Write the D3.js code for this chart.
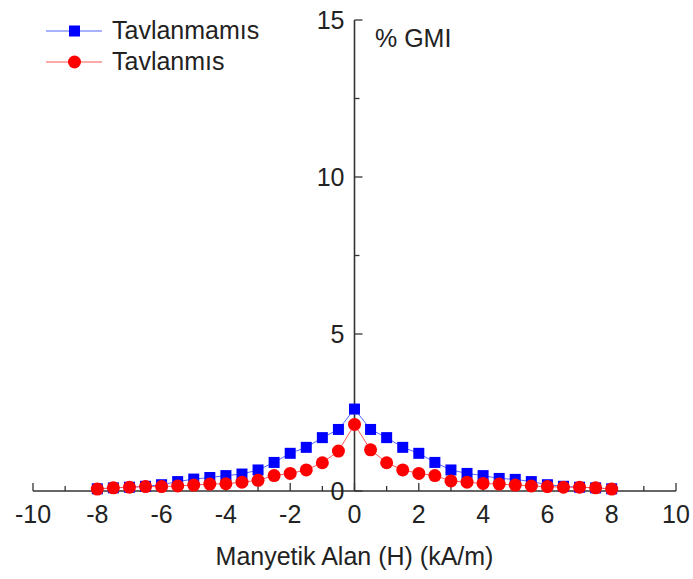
<!DOCTYPE html>
<html><head><meta charset="utf-8">
<script src="https://cdn.jsdelivr.net/npm/d3@7"></script>
<style>
body{margin:0;background:#fff;}
text{font-family:"Liberation Sans",Arial,sans-serif;fill:#222;}
</style></head>
<body><svg id="c" width="693" height="579"></svg>
<script>
const fieldH = [-8,-7.5,-7,-6.5,-6,-5.5,-5,-4.5,-4,-3.5,-3,-2.5,-2,-1.5,-1,-0.5,0,0.5,1,1.5,2,2.5,3,3.5,4,4.5,5,5.5,6,6.5,7,7.5,8];
const untreated = [0.07,0.1,0.12,0.15,0.2,0.3,0.38,0.43,0.49,0.54,0.67,0.91,1.2,1.39,1.7,1.96,2.61,1.96,1.7,1.39,1.2,0.91,0.67,0.56,0.49,0.4,0.37,0.3,0.2,0.15,0.12,0.1,0.07];
const annealed = [0.06,0.1,0.12,0.14,0.14,0.16,0.19,0.22,0.23,0.28,0.34,0.49,0.56,0.67,0.9,1.27,2.12,1.31,0.9,0.67,0.56,0.49,0.32,0.28,0.24,0.22,0.19,0.16,0.14,0.12,0.12,0.1,0.06];
const seriesNames = ["Tavlanmamıs","Tavlanmıs"];
const xTicks = [-10,-8,-6,-4,-2,0,2,4,6,8,10];
const yTicks = [0,5,10,15];
const xTitle = "Manyetik Alan (H) (kA/m)";
const yTitle = "% GMI";

const FS = 25;
const svg = d3.select("#c");
const x = d3.scaleLinear().domain([-10,10]).range([33,676]);
const y = d3.scaleLinear().domain([0,15]).range([491,20]);
const axisColor = "#333";

// X axis with ticks pointing up
const xAxis = svg.append("g").attr("transform","translate(0,"+y(0)+")");
xAxis.append("line").attr("x1",x(-10)).attr("x2",x(10)).attr("stroke",axisColor).attr("stroke-width",1.6);
xAxis.selectAll(".maj").data(xTicks).join("line")
  .attr("x1",d=>x(d)).attr("x2",d=>x(d)).attr("y1",0).attr("y2",-8)
  .attr("stroke",axisColor).attr("stroke-width",1.3);
xAxis.selectAll(".min").data(d3.range(-9,10,2)).join("line")
  .attr("x1",d=>x(d)).attr("x2",d=>x(d)).attr("y1",0).attr("y2",-5)
  .attr("stroke",axisColor).attr("stroke-width",1.3);
xAxis.selectAll("text").data(xTicks).join("text")
  .attr("x",d=>x(d)).attr("y",32).attr("text-anchor","middle")
  .attr("font-size",FS).text(d=>d);

// Y axis at x=0 with ticks pointing right
const yAxis = svg.append("g").attr("transform","translate("+x(0)+",0)");
yAxis.append("line").attr("y1",y(0)).attr("y2",y(15)).attr("stroke",axisColor).attr("stroke-width",1.6);
yAxis.selectAll(".maj").data(yTicks).join("line")
  .attr("x1",0).attr("x2",8).attr("y1",d=>y(d)).attr("y2",d=>y(d))
  .attr("stroke",axisColor).attr("stroke-width",1.3);
yAxis.selectAll(".min").data([2.5,7.5,12.5]).join("line")
  .attr("x1",0).attr("x2",5).attr("y1",d=>y(d)).attr("y2",d=>y(d))
  .attr("stroke",axisColor).attr("stroke-width",1.3);
yAxis.selectAll("text").data(yTicks).join("text")
  .attr("x",-10).attr("y",d=>y(d)).attr("dy","0.35em").attr("text-anchor","end")
  .attr("font-size",FS).text(d=>d);

svg.append("text").attr("x",375).attr("y",47).attr("font-size",FS).text(yTitle);
svg.append("text").attr("x",x(0)).attr("y",565).attr("text-anchor","middle").attr("font-size",FS).text(xTitle);

const line = d3.line().x(d=>x(d[0])).y(d=>y(d[1]));
const blueData = fieldH.map((h,i)=>[h,untreated[i]]);
const redData = fieldH.map((h,i)=>[h,annealed[i]]);

svg.append("path").datum(blueData).attr("d",line).attr("fill","none").attr("stroke","#5566ff").attr("stroke-width",1);
svg.selectAll(".sq").data(blueData).join("rect").attr("class","sq")
  .attr("x",d=>x(d[0])-5.5).attr("y",d=>y(d[1])-5.5).attr("width",11).attr("height",11).attr("fill","#0000ff");

svg.append("path").datum(redData).attr("d",line).attr("fill","none").attr("stroke","#ff5555").attr("stroke-width",1);
svg.selectAll(".ci").data(redData).join("circle").attr("class","ci")
  .attr("cx",d=>x(d[0])).attr("cy",d=>y(d[1])).attr("r",6.5).attr("fill","#ff0000");

// Legend
const leg = svg.append("g");
leg.append("line").attr("x1",46).attr("x2",102).attr("y1",31).attr("y2",31).attr("stroke","#5566ff").attr("stroke-width",1);
leg.append("rect").attr("x",69).attr("y",25.5).attr("width",11).attr("height",11).attr("fill","#0000ff");
leg.append("text").attr("x",112).attr("y",39).attr("font-size",FS).text(seriesNames[0]);
leg.append("line").attr("x1",46).attr("x2",102).attr("y1",62).attr("y2",62).attr("stroke","#ff5555").attr("stroke-width",1);
leg.append("circle").attr("cx",74.5).attr("cy",62).attr("r",6.5).attr("fill","#ff0000");
leg.append("text").attr("x",112).attr("y",70).attr("font-size",FS).text(seriesNames[1]);
</script></body></html>
